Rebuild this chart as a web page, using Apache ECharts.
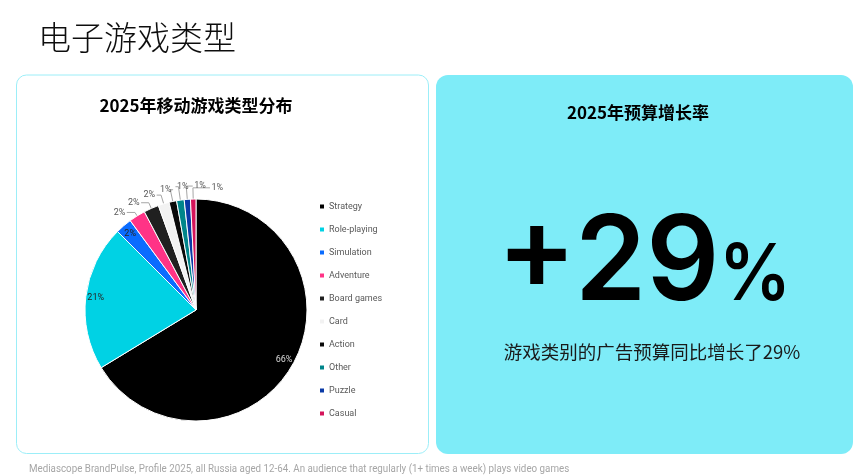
<!DOCTYPE html>
<html><head><meta charset="utf-8">
<script src="https://cdn.jsdelivr.net/npm/echarts@6/dist/echarts.min.js"></script>
<style>html,body{margin:0;padding:0;background:#fff;}#c{width:865px;height:475px;}</style>
</head><body><div id="c"></div>
<script>
// ---- content / data ----
const pageTitle = '电子游戏类型';
const chartTitle = '2025年移动游戏类型分布';
const kpiTitle = '2025年预算增长率';
const kpiSign = '+';
const kpiValue = '29';
const kpiUnit = '%';
const kpiText = '游戏类别的广告预算同比增长了29%';
const footnote = 'Mediascope BrandPulse, Profile 2025, all Russia aged 12-64. An audience that regularly (1+ times a week) plays video games';
const categories = ['Strategy','Role-playing','Simulation','Adventure','Board games','Card','Action','Other','Puzzle','Casual'];
const shares = [66.3, 21.2, 2.4, 2.4, 2.2, 1.6, 1.1, 1.1, 0.9, 0.8];

// ---- styles ----
const palette = ['#000000','#00D2E4','#0A6CFF','#FF3386','#202020','#F2F2F2','#0A0A0A','#00858A','#0A3AA6','#D4145A'];
const insideColors = ['#D9D9D9','#262626','#262626'];
const CX = 196, CY = 310, R = 111;
const INSIDE_COUNT = 3;

// mid angles (clockwise from 12 o'clock), computed from data
const total = shares.reduce((a, b) => a + b, 0);
const mids = [];
{ let acc = 0; shares.forEach(v => { mids.push((acc + v / 2) / total * 360); acc += v; }); }

// spread outside labels angularly (min gap), keep their mean angle
const outIdx = [];
for (let i = INSIDE_COUNT; i < shares.length; i++) outIdx.push(i);
const ccw = i => (360 - mids[i]) % 360;
outIdx.sort((a, b) => ccw(a) - ccw(b));
const GAP = 8;
const spread = {};
{
  const orig = outIdx.map(ccw);
  const p = orig.slice();
  for (let k = 1; k < p.length; k++) if (p[k] < p[k - 1] + GAP) p[k] = p[k - 1] + GAP;
  const mo = orig.reduce((a, b) => a + b, 0) / orig.length;
  const mp = p.reduce((a, b) => a + b, 0) / p.length;
  outIdx.forEach((idx, k) => { spread[idx] = p[k] + (mo - mp); });
}

const pieData = categories.map((name, i) => ({
  name, value: shares[i],
  label: i < INSIDE_COUNT ? { position: 'inside', color: insideColors[i] } : { position: 'outside', color: '#595959' },
  labelLine: { show: i >= INSIDE_COUNT }
}));

const chart = echarts.init(document.getElementById('c'), null, { renderer: 'canvas' });
const rad = d => d * Math.PI / 180;

chart.setOption({
  animation: false,
  color: palette,
  graphic: [
    { type: 'rect', z: 0, shape: { x: 16.5, y: 75, width: 412, height: 378.5, r: 10 },
      style: { fill: '#ffffff', stroke: '#9CEEF8', lineWidth: 1 } },
    { type: 'rect', z: 0, shape: { x: 436, y: 75, width: 417, height: 379, r: 12 },
      style: { fill: '#7EECF8' } },
    { type: 'text', z: 1, x: 38, y: 37,
      style: { text: pageTitle, font: '300 33px "Noto Sans CJK SC"', fill: '#0d0d0d', verticalAlign: 'middle' } },
    { type: 'text', z: 1, x: 196, y: 106,
      style: { text: chartTitle, font: 'bold 17px "Noto Sans CJK SC"', fill: '#000', align: 'center', verticalAlign: 'middle' } },
    { type: 'text', z: 1, x: 638, y: 113,
      style: { text: kpiTitle, font: 'bold 17px "Noto Sans CJK SC"', fill: '#000', align: 'center', verticalAlign: 'middle' } },
    { type: 'text', z: 1, x: 497, y: 254,
      style: { text: kpiSign, font: '600 118px Inter', fill: '#000', verticalAlign: 'middle' } },
    { type: 'text', z: 1, x: 575, y: 265, scaleX: 0.97,
      style: { text: kpiValue, font: '600 118px Inter', fill: '#000', verticalAlign: 'middle' } },
    { type: 'text', z: 1, x: 791, y: 277, scaleX: 0.92,
      style: { text: kpiUnit, font: '600 78px Inter', fill: '#000', align: 'right', verticalAlign: 'middle' } },
    { type: 'text', z: 1, x: 652, y: 352,
      style: { text: kpiText, font: '18.5px "Noto Sans CJK SC"', fill: '#1a1a1a', align: 'center', verticalAlign: 'middle' } },
    { type: 'text', z: 1, x: 29, y: 469, scaleX: 0.978,
      style: { text: footnote, font: '10px Roboto', fill: '#A6A6A6', verticalAlign: 'middle' } }
  ],
  legend: {
    orient: 'vertical', left: 315, top: 197,
    itemWidth: 4, itemHeight: 4, itemGap: 14, icon: 'rect',
    itemStyle: { borderWidth: 0 },
    textStyle: { fontSize: 9, color: '#595959', fontFamily: 'Roboto' },
    data: categories
  },
  series: [{
    type: 'pie',
    center: [CX, CY], radius: R,
    startAngle: 90, clockwise: true,
    avoidLabelOverlap: false,
    itemStyle: { borderColor: '#fff', borderWidth: 1 },
    label: {
      fontSize: 9, fontFamily: 'Roboto',
      formatter: p => Math.round(p.percent) + '%'
    },
    labelLine: { lineStyle: { color: '#A6A6A6', width: 1 }, length: 8, length2: 4 },
    labelLayout: params => {
      const i = params.dataIndex;
      if (i < INSIDE_COUNT) {
        const a = rad(mids[i]);
        return { x: CX + 0.91 * R * Math.sin(a), y: CY - 0.91 * R * Math.cos(a), align: 'center', verticalAlign: 'middle' };
      }
      const am = rad(mids[i]);
      const ex = CX + R * Math.sin(am), ey = CY - R * Math.cos(am);
      const al = rad(-spread[i]);
      const lx = CX + (R + 13) * Math.sin(al), ly = CY - (R + 13) * Math.cos(al);
      const t = Math.max(0, (ey - ly) / Math.cos(am));
      const bx = ex + t * Math.sin(am), by = ly;
      const hw = params.labelRect.width / 2 + 1.5;
      const endX = lx < bx ? lx + hw : lx - hw;
      return { x: lx, y: ly, align: 'center', verticalAlign: 'middle',
        labelLinePoints: [[ex, ey], [bx, by], [endX, by]] };
    },
    data: pieData
  }]
});
</script></body></html>
